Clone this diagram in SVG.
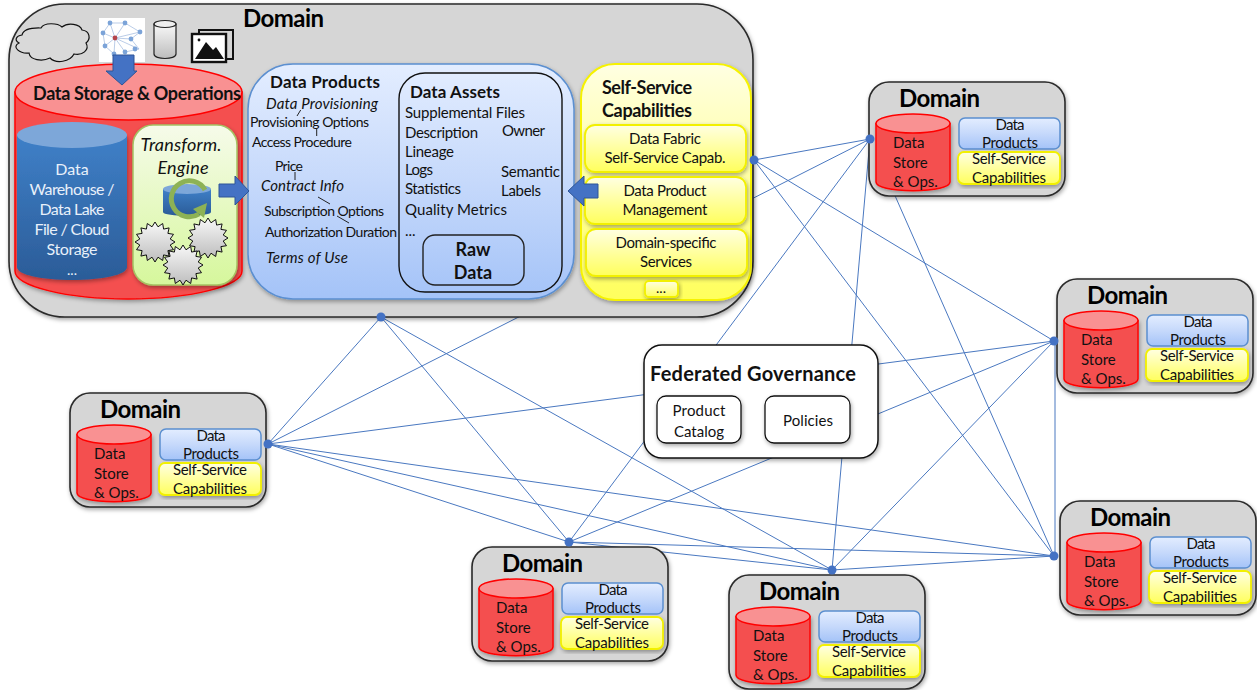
<svg xmlns="http://www.w3.org/2000/svg" xmlns:xlink="http://www.w3.org/1999/xlink" width="1257" height="690" viewBox="0 0 1257 690">
<defs>
<filter id="sh" x="-10%" y="-10%" width="125%" height="125%"><feDropShadow dx="1" dy="2" stdDeviation="2" flood-color="#000" flood-opacity="0.35"/></filter>
<linearGradient id="gBlue" x1="0" y1="0" x2="0" y2="1"><stop offset="0" stop-color="#e3edff"/><stop offset="0.5" stop-color="#c6d9fb"/><stop offset="1" stop-color="#a4c3f8"/></linearGradient>
<linearGradient id="gYel" x1="0" y1="0" x2="0" y2="1"><stop offset="0" stop-color="#ffffe2"/><stop offset="1" stop-color="#ffff5c"/></linearGradient>
<linearGradient id="gGreen" x1="0" y1="0" x2="0" y2="1"><stop offset="0" stop-color="#f6fbea"/><stop offset="1" stop-color="#d6f79c"/></linearGradient>
<linearGradient id="gDb" x1="0" y1="0" x2="0" y2="1"><stop offset="0" stop-color="#3f80c8"/><stop offset="1" stop-color="#2b5c98"/></linearGradient>
<linearGradient id="gGrey" x1="0" y1="0" x2="0" y2="1"><stop offset="0" stop-color="#f8f8f8"/><stop offset="1" stop-color="#bdbdbd"/></linearGradient>
<polygon id="star" points="20,0 15.2,3 18.5,7.7 12.9,8.6 14.1,14.1 8.6,12.9 7.7,18.5 3,15.2 0,20 -3,15.2 -7.7,18.5 -8.6,12.9 -14.1,14.1 -12.9,8.6 -18.5,7.7 -15.2,3 -20,0 -15.2,-3 -18.5,-7.7 -12.9,-8.6 -14.1,-14.1 -8.6,-12.9 -7.7,-18.5 -3,-15.2 0,-20 3,-15.2 7.7,-18.5 8.6,-12.9 14.1,-14.1 12.9,-8.6 18.5,-7.7 15.2,-3" fill="url(#gGrey)" stroke="#111" stroke-width="1"/>
</defs>
<style>
text{font-family:"Lato","Open Sans","Liberation Sans",sans-serif;fill:#111;font-size:14px}
.dom{fill:#d6d6d6;stroke:#2a2a2a;stroke-width:1.6;filter:url(#sh)}
.title{font-size:24px;font-weight:700;fill:#000}
.red{fill:#f44f50;stroke:#f00;stroke-width:1.5}
.redtop{fill:#f99192;stroke:#f00;stroke-width:1.5}
.blue{fill:url(#gBlue);stroke:#5b8fd0;stroke-width:1.5}
.yel{fill:url(#gYel);stroke:#f2f000;stroke-width:1.8}
.m{text-anchor:middle}
.b15{font-size:15px}
.bold{font-weight:700}
.it{font-style:italic}
.c{stroke:#4a78c0;stroke-width:1;fill:none}
.hub{fill:#4472c4}
.arr{fill:#4472c4;stroke:#2f5597;stroke-width:1}
.tick{stroke:#222;stroke-width:1;fill:none}
.wt{fill:#e8f0fa;font-size:16px;text-anchor:middle}
</style>
<g id="connectors">
<path class="c" d="M754,160L870,139M870,139L268,444M870,139L569,542M870,139L832,570M870,139L1054,556M754,160L1054,341M754,160L1054,556M381,317L268,444M381,317L569,542M381,317L832,570M268,444L1054,341M268,444L569,542M268,444L832,570M268,444L1054,556M569,542L1054,341M569,542L832,570M569,542L1054,556M832,570L1054,341M832,570L1054,556M1055,341L1055,556"/>
</g>
<g id="domain-main">
<rect class="dom" x="9" y="4" width="744" height="313" rx="56"/>
<text class="title" x="243" y="27" textLength="81">Domain</text>
<g id="sources">
<path d="M22,35C24,27 37,28 41,28C44,22 58,23 62,27C68,22 80,24 82,30C90,31 91,39 86,43C90,50 82,56 74,54C70,62 56,64 50,58C42,62 30,60 29,53C20,54 11,47 19,43C14,40 16,36 22,35Z" fill="#d9d9d9" stroke="#111" stroke-width="1.2"/>
<rect x="99" y="18" width="46" height="44" fill="#fff"/>
<path d="M110,23L115,38L125,23L140,32L115,38L103,33L110,23L125,23M115,38L131,39L140,32M115,38L139,49L131,39M115,38L105,46L114,54L115,38L125,52L139,49M103,33L105,46" fill="none" stroke="#9db7de" stroke-width="0.7"/>
<g fill="#7ba3d8"><circle cx="110" cy="23" r="2.4"/><circle cx="125" cy="23" r="2.4"/><circle cx="140" cy="32" r="2.4"/><circle cx="103" cy="33" r="2.4"/><circle cx="131" cy="39" r="2.4"/><circle cx="135" cy="49" r="2.4"/><circle cx="105" cy="46" r="2.4"/><circle cx="125" cy="52" r="2.4"/><circle cx="114" cy="54" r="2.4"/></g>
<circle cx="115" cy="38" r="2.4" fill="#b5444a"/>
<path d="M154,24V54C154,60 176,60 176,54V24Z" fill="url(#gGrey)" stroke="#222" stroke-width="1.2"/>
<ellipse cx="165" cy="24" rx="11" ry="3.5" fill="#eee" stroke="#222" stroke-width="1.2"/>
<path d="M199,34V30H233V59H226" fill="none" stroke="#111" stroke-width="2"/>
<rect x="192" y="34" width="34" height="28" fill="#fff" stroke="#111" stroke-width="2.4"/>
<path d="M195,59L206,42L213,50L216,47L224,59Z" fill="#111"/><circle cx="199" cy="40" r="1.4" fill="#111"/>
</g>
<g id="storage">
<path class="red" d="M15,92V271C15,286 66,299 128,299C191,299 242,286 242,271V92Z" filter="url(#sh)"/>
<ellipse class="redtop" cx="128.500" cy="92" rx="113.500" ry="28"/>
<text class="bold" x="33" y="100" style="font-size:18px" textLength="208">Data Storage &amp; Operations</text>
<path d="M17,135V267C17,275 42,280 72,280C102,280 127,275 127,267V135Z" fill="url(#gDb)" filter="url(#sh)"/>
<ellipse cx="72" cy="135" rx="55" ry="13" fill="#7da7d9"/>
<text class="wt" x="72" y="175">Data</text>
<text class="wt" x="72" y="195" textLength="85">Warehouse /</text>
<text class="wt" x="72" y="215" textLength="65">Data Lake</text>
<text class="wt" x="72" y="235" textLength="75">File / Cloud</text>
<text class="wt" x="72" y="255" textLength="51">Storage</text>
<text class="wt" x="72" y="275" style="font-size:14px">...</text>
<rect x="133" y="125" width="104" height="160" rx="20" fill="url(#gGreen)" stroke="#a4c263" stroke-width="1.5" filter="url(#sh)"/>
<text class="it m" x="181" y="151" style="font-size:18px" textLength="81">Transform.</text>
<text class="it m" x="183" y="174" style="font-size:18px" textLength="51">Engine</text>
<path d="M163,189V212C163,217 211,217 211,212V189Z" fill="url(#gDb)"/>
<ellipse cx="187" cy="189" rx="24" ry="5" fill="#7da7d9"/>
<path d="M205,190A18,18 0 1 0 199,214" fill="none" stroke="#8db255" stroke-width="5"/>
<polygon points="193,209 207,203 204,218" fill="#8db255"/>
<use href="#star" xlink:href="#star" x="155" y="242"/>
<use href="#star" xlink:href="#star" x="208" y="238"/>
<use href="#star" xlink:href="#star" x="183" y="265"/>
</g>
<g id="data-products">
<rect x="248" y="64" width="326" height="235" rx="45" fill="url(#gBlue)" stroke="#5b8fd0" stroke-width="1.5" filter="url(#sh)"/>
<text class="bold" x="270" y="88" style="font-size:17px" textLength="110">Data Products</text>
<text class="it b15" x="266" y="109" textLength="112">Data Provisioning</text>
<text x="250" y="127" textLength="119">Provisioning Options</text>
<text x="252" y="147" textLength="100">Access Procedure</text>
<text x="275" y="171" textLength="28">Price</text>
<text class="it b15" x="261" y="191" textLength="83">Contract Info</text>
<text x="264" y="216" textLength="120">Subscription Options</text>
<text x="265" y="237" textLength="132">Authorization Duration</text>
<text class="it b15" x="266" y="263" textLength="82">Terms of Use</text>
<path class="tick" d="M300.700,110L297,116M316.700,128V136M295,172V180M318,197L330,204M337,216L349,223"/>
<g id="data-assets">
<rect x="399" y="73" width="163" height="219" rx="26" fill="none" stroke="#111" stroke-width="1.4"/>
<text class="bold" x="410" y="98" style="font-size:17px" textLength="90">Data Assets</text>
<text x="405" y="118" class="b15" textLength="120">Supplemental Files</text>
<text x="405" y="138" class="b15" textLength="73">Description</text>
<text x="502" y="136" class="b15" textLength="43">Owner</text>
<text x="405" y="157" class="b15" textLength="49">Lineage</text>
<text x="405" y="175" class="b15" textLength="28">Logs</text>
<text x="501" y="177" class="b15" textLength="59">Semantic</text>
<text x="405" y="194" class="b15" textLength="56">Statistics</text>
<text x="501" y="196" class="b15" textLength="40">Labels</text>
<text x="405" y="215" class="b15" textLength="102">Quality Metrics</text>
<text x="405" y="236" class="b15">...</text>
<rect x="423" y="235" width="101" height="50" rx="12" fill="none" stroke="#222" stroke-width="1.4"/>
<text class="bold m" x="473" y="256" style="font-size:18px">Raw</text>
<text class="bold m" x="473" y="279" style="font-size:18px">Data</text>
</g>
</g>
<g id="self-service">
<rect x="581" y="64" width="170" height="236" rx="34" fill="url(#gYel)" stroke="#f6f200" stroke-width="2" filter="url(#sh)"/>
<text class="bold" x="602" y="94" style="font-size:18px" textLength="90">Self-Service</text>
<text class="bold" x="602" y="117" style="font-size:18px" textLength="90">Capabilities</text>
<rect class="yel" x="585" y="125" width="161" height="47" rx="10" filter="url(#sh)"/>
<text class="m b15" x="665" y="144" textLength="72">Data Fabric</text>
<text class="m b15" x="665" y="163" textLength="121">Self-Service Capab.</text>
<rect class="yel" x="585" y="177" width="161" height="47" rx="10" filter="url(#sh)"/>
<text class="m b15" x="665" y="196" textLength="83">Data Product</text>
<text class="m b15" x="665" y="215" textLength="85">Management</text>
<rect class="yel" x="586" y="229" width="161" height="47" rx="10" filter="url(#sh)"/>
<text class="m b15" x="666" y="248" textLength="101">Domain-specific</text>
<text class="m b15" x="666" y="267" textLength="52">Services</text>
<rect class="yel" x="645" y="281" width="33" height="16" rx="4" filter="url(#sh)"/>
<text class="m" x="661" y="293">...</text>
</g>
<polygon class="arr" points="113,55 134,55 134,71 137,71 122,85 106,71 113,71"/>
<polygon class="arr" points="219,184 235,184 235,176 249,191 235,205 235,197 219,197"/>
<polygon class="arr" points="598,184 584,184 584,176 568,191 584,206 584,198 598,198"/>
</g>
<g id="federated-governance">
<rect x="644" y="345" width="234" height="113" rx="18" fill="#fff" stroke="#111" stroke-width="1.5" filter="url(#sh)"/>
<text class="bold" x="650" y="381" style="font-size:20px" textLength="206">Federated Governance</text>
<g id="product-catalog"><rect x="657" y="396" width="84" height="47" rx="9" fill="#fff" stroke="#111" stroke-width="1.3" filter="url(#sh)"/>
<text class="m b15" x="699" y="416" textLength="53">Product</text><text class="m b15" x="699" y="437" textLength="50">Catalog</text></g>
<g id="policies"><rect x="765" y="396" width="85" height="47" rx="9" fill="#fff" stroke="#111" stroke-width="1.3" filter="url(#sh)"/>
<text class="m b15" x="808" y="426" textLength="50">Policies</text></g>
</g>
<g id="domain-1" transform="translate(869,82)">
<rect class="dom" width="196" height="114" rx="20"/><text class="title" x="30" y="25" textLength="81">Domain</text>
<path class="red" d="M7,41.500V100C7,105 22,108.700 44,108.700C66,108.700 81,105 81,100V41.500Z" filter="url(#sh)"/><ellipse class="redtop" cx="44" cy="41.500" rx="37" ry="9.500"/>
<text class="b15" x="24" y="66">Data</text><text class="b15" x="24" y="86">Store</text><text class="b15" x="24" y="105">&amp; Ops.</text>
<rect class="blue" x="90" y="36" width="101" height="31" rx="6"/><text class="m b15" x="141" y="48" textLength="29">Data</text><text class="m b15" x="141" y="66" textLength="56">Products</text>
<rect class="yel" x="89" y="70" width="102" height="32" rx="6" filter="url(#sh)"/><text class="m b15" x="140" y="82" textLength="74">Self-Service</text><text class="m b15" x="140" y="101" textLength="74">Capabilities</text>
</g>
<g id="domain-2" transform="translate(1057,279)">
<rect class="dom" width="196" height="114" rx="20"/><text class="title" x="30" y="25" textLength="81">Domain</text>
<path class="red" d="M7,41.500V100C7,105 22,108.700 44,108.700C66,108.700 81,105 81,100V41.500Z" filter="url(#sh)"/><ellipse class="redtop" cx="44" cy="41.500" rx="37" ry="9.500"/>
<text class="b15" x="24" y="66">Data</text><text class="b15" x="24" y="86">Store</text><text class="b15" x="24" y="105">&amp; Ops.</text>
<rect class="blue" x="90" y="36" width="101" height="31" rx="6"/><text class="m b15" x="141" y="48" textLength="29">Data</text><text class="m b15" x="141" y="66" textLength="56">Products</text>
<rect class="yel" x="89" y="70" width="102" height="32" rx="6" filter="url(#sh)"/><text class="m b15" x="140" y="82" textLength="74">Self-Service</text><text class="m b15" x="140" y="101" textLength="74">Capabilities</text>
</g>
<g id="domain-3" transform="translate(1060,501)">
<rect class="dom" width="196" height="114" rx="20"/><text class="title" x="30" y="25" textLength="81">Domain</text>
<path class="red" d="M7,41.500V100C7,105 22,108.700 44,108.700C66,108.700 81,105 81,100V41.500Z" filter="url(#sh)"/><ellipse class="redtop" cx="44" cy="41.500" rx="37" ry="9.500"/>
<text class="b15" x="24" y="66">Data</text><text class="b15" x="24" y="86">Store</text><text class="b15" x="24" y="105">&amp; Ops.</text>
<rect class="blue" x="90" y="36" width="101" height="31" rx="6"/><text class="m b15" x="141" y="48" textLength="29">Data</text><text class="m b15" x="141" y="66" textLength="56">Products</text>
<rect class="yel" x="89" y="70" width="102" height="32" rx="6" filter="url(#sh)"/><text class="m b15" x="140" y="82" textLength="74">Self-Service</text><text class="m b15" x="140" y="101" textLength="74">Capabilities</text>
</g>
<g id="domain-4" transform="translate(729,575)">
<rect class="dom" width="196" height="114" rx="20"/><text class="title" x="30" y="25" textLength="81">Domain</text>
<path class="red" d="M7,41.500V100C7,105 22,108.700 44,108.700C66,108.700 81,105 81,100V41.500Z" filter="url(#sh)"/><ellipse class="redtop" cx="44" cy="41.500" rx="37" ry="9.500"/>
<text class="b15" x="24" y="66">Data</text><text class="b15" x="24" y="86">Store</text><text class="b15" x="24" y="105">&amp; Ops.</text>
<rect class="blue" x="90" y="36" width="101" height="31" rx="6"/><text class="m b15" x="141" y="48" textLength="29">Data</text><text class="m b15" x="141" y="66" textLength="56">Products</text>
<rect class="yel" x="89" y="70" width="102" height="32" rx="6" filter="url(#sh)"/><text class="m b15" x="140" y="82" textLength="74">Self-Service</text><text class="m b15" x="140" y="101" textLength="74">Capabilities</text>
</g>
<g id="domain-5" transform="translate(472,547)">
<rect class="dom" width="196" height="114" rx="20"/><text class="title" x="30" y="25" textLength="81">Domain</text>
<path class="red" d="M7,41.500V100C7,105 22,108.700 44,108.700C66,108.700 81,105 81,100V41.500Z" filter="url(#sh)"/><ellipse class="redtop" cx="44" cy="41.500" rx="37" ry="9.500"/>
<text class="b15" x="24" y="66">Data</text><text class="b15" x="24" y="86">Store</text><text class="b15" x="24" y="105">&amp; Ops.</text>
<rect class="blue" x="90" y="36" width="101" height="31" rx="6"/><text class="m b15" x="141" y="48" textLength="29">Data</text><text class="m b15" x="141" y="66" textLength="56">Products</text>
<rect class="yel" x="89" y="70" width="102" height="32" rx="6" filter="url(#sh)"/><text class="m b15" x="140" y="82" textLength="74">Self-Service</text><text class="m b15" x="140" y="101" textLength="74">Capabilities</text>
</g>
<g id="domain-6" transform="translate(70,393)">
<rect class="dom" width="196" height="114" rx="20"/><text class="title" x="30" y="25" textLength="81">Domain</text>
<path class="red" d="M7,41.500V100C7,105 22,108.700 44,108.700C66,108.700 81,105 81,100V41.500Z" filter="url(#sh)"/><ellipse class="redtop" cx="44" cy="41.500" rx="37" ry="9.500"/>
<text class="b15" x="24" y="66">Data</text><text class="b15" x="24" y="86">Store</text><text class="b15" x="24" y="105">&amp; Ops.</text>
<rect class="blue" x="90" y="36" width="101" height="31" rx="6"/><text class="m b15" x="141" y="48" textLength="29">Data</text><text class="m b15" x="141" y="66" textLength="56">Products</text>
<rect class="yel" x="89" y="70" width="102" height="32" rx="6" filter="url(#sh)"/><text class="m b15" x="140" y="82" textLength="74">Self-Service</text><text class="m b15" x="140" y="101" textLength="74">Capabilities</text>
</g>
<g id="hubs">
<circle class="hub" cx="754" cy="160" r="4.500"/><circle class="hub" cx="870" cy="139" r="4.500"/><circle class="hub" cx="381" cy="317" r="4.500"/><circle class="hub" cx="268" cy="444" r="4.500"/><circle class="hub" cx="569" cy="542" r="4.500"/><circle class="hub" cx="832" cy="570" r="4.500"/><circle class="hub" cx="1054" cy="341" r="4.500"/><circle class="hub" cx="1054" cy="556" r="4.500"/>
</g>
</svg>
